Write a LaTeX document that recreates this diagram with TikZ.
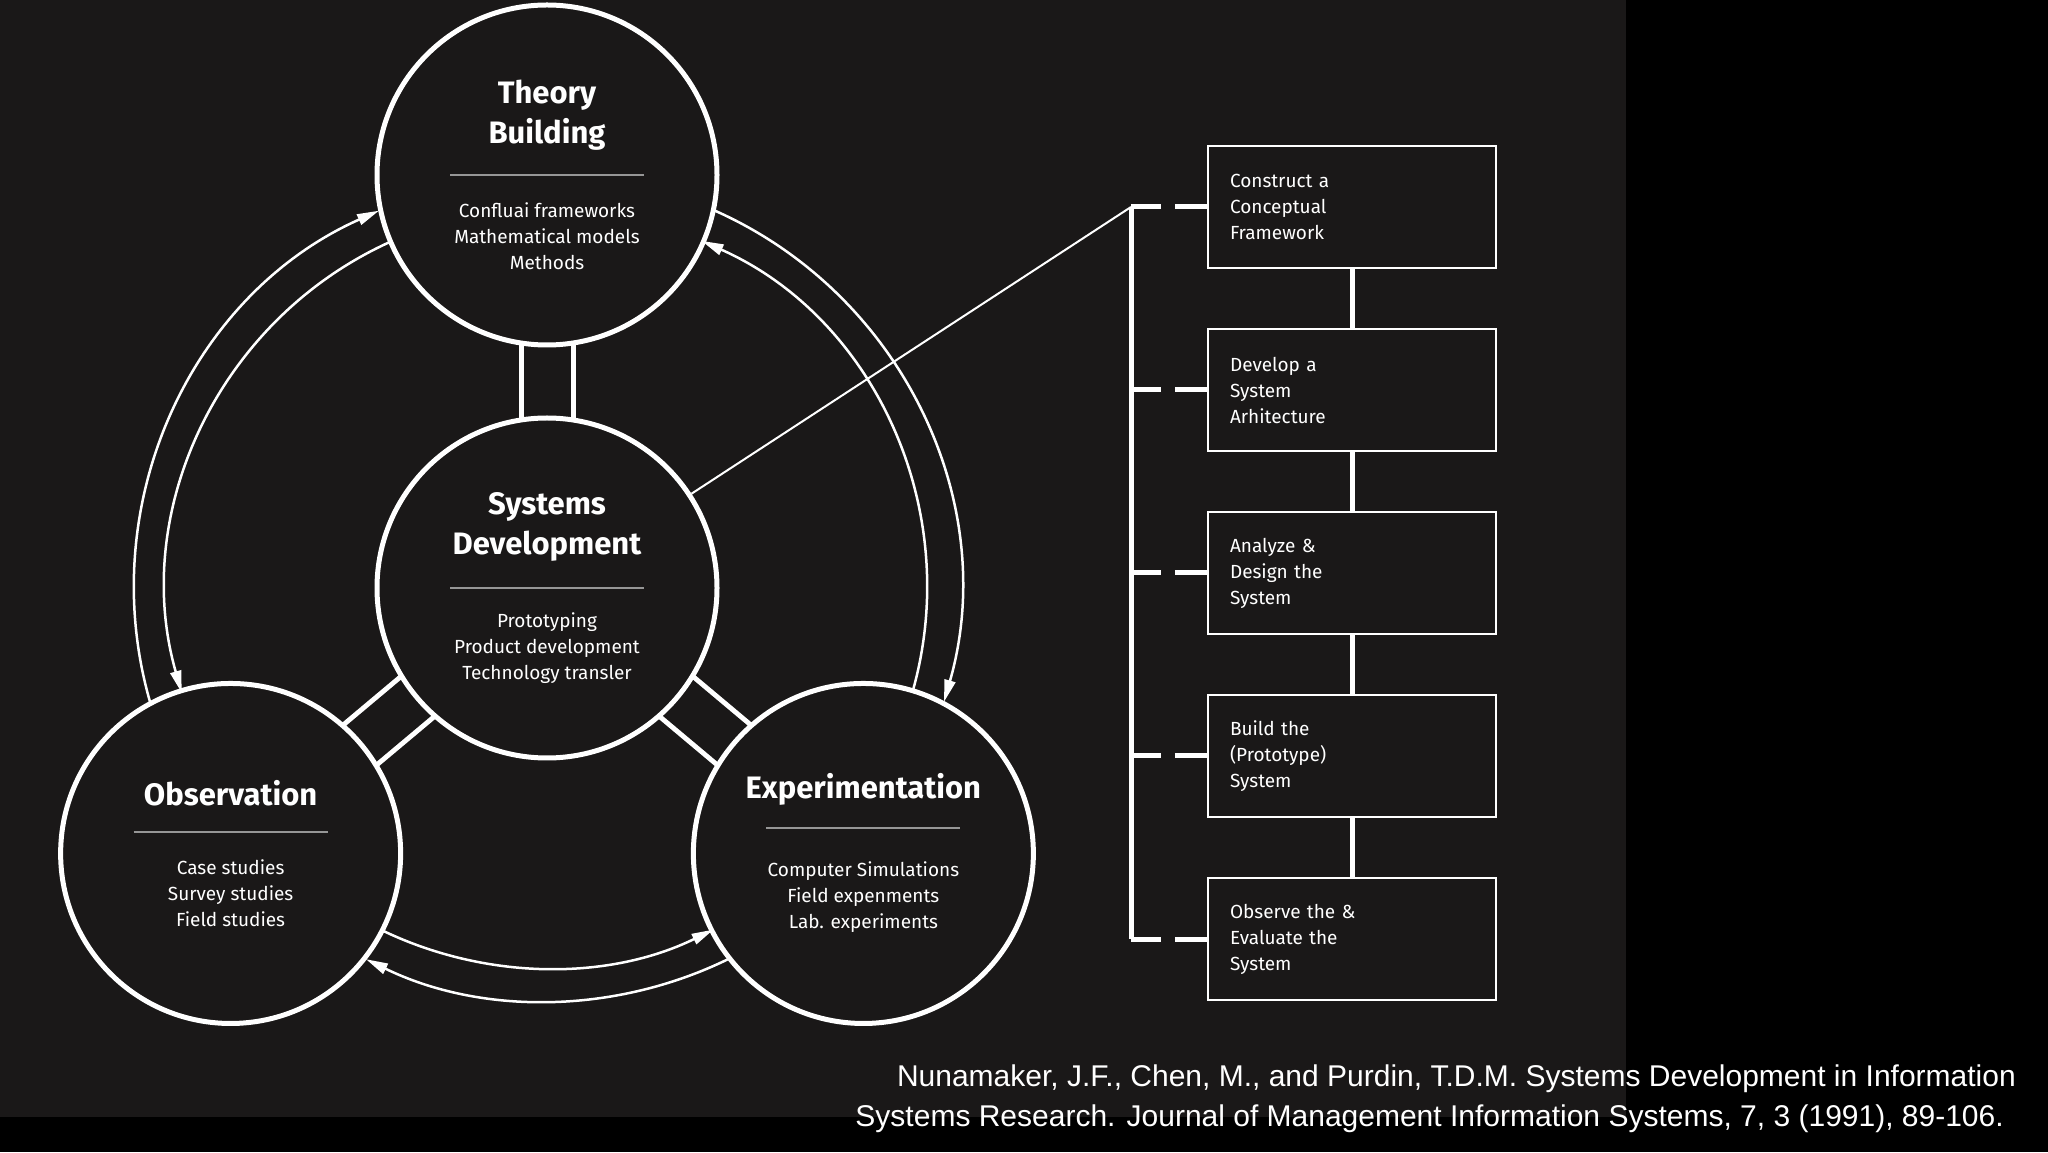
\documentclass[tikz,border=0pt]{standalone}
\usepackage{fontspec}
\setmainfont{Fira Sans}
\newfontfamily\citefont{Liberation Sans}
\usetikzlibrary{arrows.meta,backgrounds,calc}
\definecolor{bgc}{RGB}{26,24,24}
\definecolor{rulec}{RGB}{150,150,150}
\begin{document}
\begin{tikzpicture}[x=1pt,y=1pt,
  circ/.style={circle,draw=white,line width=5,fill=bgc,minimum size=340,inner sep=0},
  ttl/.style={text=white,font=\fontsize{31}{40}\selectfont\bfseries,align=center},
  sub/.style={text=white,font=\fontsize{19}{26}\selectfont,align=center},
  rul/.style={draw=rulec,line width=2},
  bar/.style={draw=white,line width=5,double=bgc,double distance=47},
  arcl/.style={draw=white,line width=2.5,-{Triangle[length=22,width=11]}},
  box/.style={draw=white,line width=2.5,fill=bgc,minimum width=288,minimum height=122,inner sep=0,
     text width=244,align=left,text=white,font=\fontsize{19}{26}\selectfont},
  tick/.style={draw=white,line width=5},
  vlink/.style={draw=white,line width=5}
]
\fill[black] (0,0) rectangle (2048,1152);
\fill[bgc] (0,35) rectangle (1626,1152);
\useasboundingbox (0,0) rectangle (2048,1152);
\coordinate (C) at (547,564);
% arcs
\draw[arcl] ($(C)+(196:413)$) arc[start angle=196,end angle=114,radius=413];
\draw[arcl] ($(C)+(114:380)$) arc[start angle=114,end angle=196,radius=380];
\draw[arcl] ($(C)+(66:413)$) arc[start angle=66,end angle=-16,radius=413];
\draw[arcl] ($(C)+(-16:380)$) arc[start angle=-16,end angle=66,radius=380];
\draw[arcl] ($(C)+(244:380)$) arc[start angle=244,end angle=296,radius=380];
\draw[arcl] ($(C)+(296:413)$) arc[start angle=296,end angle=244,radius=413];
% bars
\draw[bar] (C) -- ($(C)+(90:413)$);
\draw[bar] (C) -- ($(C)+(220:413)$);
\draw[bar] (C) -- ($(C)+(320:413)$);
% circles
\node[circ] (tb) at ($(C)+(90:413)$) {};
\node[circ] (sd) at (C) {};
\node[circ] (ob) at ($(C)+(220:413)$) {};
\node[circ] (ex) at ($(C)+(320:413)$) {};
% theory
\node[ttl] at ($(tb)+(0,60)$) {Theory\\Building};
\draw[rul] ($(tb)+(-97,0)$) -- ($(tb)+(97,0)$);
\node[sub] at ($(tb)+(0,-61)$) {Confluai frameworks\\Mathematical models\\Methods};
% systems
\node[ttl] at ($(sd)+(0,61)$) {Systems\\Development};
\draw[rul] ($(sd)+(-97,0)$) -- ($(sd)+(97,0)$);
\node[sub] at ($(sd)+(0,-60)$) {Prototyping\\Product development\\Technology transler};
% observation
\node[ttl] at ($(ob)+(0,60)$) {Observation};
\draw[rul] ($(ob)+(-97,21)$) -- ($(ob)+(97,21)$);
\node[sub] at ($(ob)+(0,-40)$) {Case studies\\Survey studies\\Field studies};
% experimentation
\node[ttl] at ($(ex)+(0,64)$) {Experimentation};
\draw[rul] ($(ex)+(-97,25)$) -- ($(ex)+(97,25)$);
\node[sub] at ($(ex)+(0,-44)$) {Computer Simulations\\Field expenments\\Lab. experiments};
% boxes
\node[box] (b1) at (1352,945) {Construct a\\Conceptual\\Framework};
\node[box] (b2) at (1352,762) {Develop a\\System\\Arhitecture};
\node[box] (b3) at (1352,579) {Analyze \&\\Design the\\System};
\node[box] (b4) at (1352,396) {Build the\\(Prototype)\\System};
\node[box] (b5) at (1352,213) {Observe the \&\\Evaluate the\\System};
\foreach \a/\b in {b1/b2,b2/b3,b3/b4,b4/b5} \draw[vlink] (\a.south) -- (\b.north);
% bracket
\coordinate (bt) at (1131,945);
\coordinate (bb) at (1131,213);
\draw[tick] (bt) -- (bb);
\draw[draw=white,line width=2] (sd) -- (bt);
\coordinate (p) at (1131,0);
\foreach \b in {b1,b2,b3,b4,b5}{
  \draw[tick] (\b.west -| p) -- ++(30,0);
  \draw[tick] ($(\b.west)+(-32,0)$) -- (\b.west);
}
% citation
\node[anchor=east,text=white,font=\citefont\fontsize{30}{36}\selectfont,inner sep=0] (c1) at (2016,73) {Nunamaker, J.F., Chen, M., and Purdin, T.D.M. Systems Development in Information};
\node[anchor=east,text=white,font=\citefont\fontsize{30}{36}\selectfont,inner sep=0] (c2) at (2004,33) {Systems Research. Journal of Management Information Systems, 7, 3 (1991), 89-106.};
\end{tikzpicture}
\end{document}
